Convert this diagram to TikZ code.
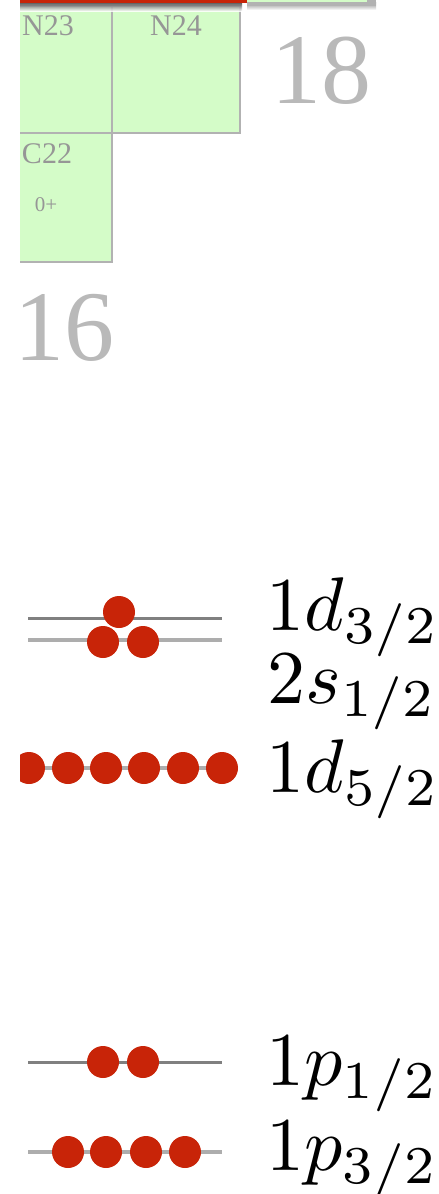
\documentclass[tikz,border=0pt]{standalone}
\usepackage[no-math]{fontspec}
\newfontfamily\tms{Liberation Serif}
\definecolor{nred}{RGB}{200,36,8}
\definecolor{cellgreen}{RGB}{212,252,200}
\definecolor{cellline}{RGB}{178,178,178}
\definecolor{bigdigit}{RGB}{185,185,185}
\definecolor{celltext}{RGB}{150,150,150}
\tikzset{
  cell/.style={fill=cellgreen,draw=cellline,line width=2.5pt},
  ctext/.style={text=celltext,inner sep=0pt,font=\tms\fontsize{30}{30}\selectfont,anchor=base},
  jtext/.style={text=celltext,inner sep=0pt,font=\tms\fontsize{21}{21}\selectfont,anchor=base},
  bignum/.style={text=bigdigit,inner sep=0pt,font=\tms\fontsize{100}{100}\selectfont,anchor=base},
  level/.style={draw=black!50,line width=3pt},
  levelb/.style={draw=black!32,line width=3.2pt},
  nucleon/.style={fill=nred},
  lab/.style={inner sep=0pt,anchor=base west,scale=7.6},
}
\begin{document}
\begin{tikzpicture}[x=1pt,y=-1pt]
\useasboundingbox (0,0) rectangle (439,1194);
\begin{scope}
\clip (20,0) rectangle (439,1194);
% top row cell (partly visible)
\fill[cellgreen] (247,-30) rectangle (370,2);
\shade[top color=black!45,bottom color=white] (247,2) rectangle (376,10);
\fill[black!30] (247,2) rectangle (376,6);
\fill[black!30] (367,-5) rectangle (376,6);
% green cells
\draw[cell] (-16,6) rectangle (112,133);
\draw[cell] (112,6) rectangle (240,133);
\draw[cell] (-16,133) rectangle (112,262);
\node[ctext] (n23) at (48,35) {N23};
\node[ctext] (n24) at (176,35) {N24};
\node[ctext] (c22) at (47,163) {C22};
\node[jtext] (c22j) at (46,211) {0+};
% red bar with shadow
\shade[top color=black!80,bottom color=white,opacity=0.85] (20,2) rectangle (242,11);
\fill[nred] (20,-5) rectangle (247,2.5);
\node[bignum] (n18) at (321,103) {18};
\node[bignum] (n16) at (64,360) {16};
% levels
\draw[level] (28,618) -- (222,618);
\draw[levelb] (28,640) -- (222,640);
\fill[nucleon] (119,612) circle (16);
\fill[nucleon] (103,642) circle (16);
\fill[nucleon] (143,642) circle (16);
\draw[levelb] (20,768) -- (222,768);
\foreach \x in {29,68,106,144,183,222} \fill[nucleon] (\x,768) circle (16);
\draw[level] (28,1062) -- (222,1062);
\fill[nucleon] (103,1062) circle (16);
\fill[nucleon] (143,1062) circle (16);
\draw[levelb] (28,1152) -- (222,1152);
\foreach \x in {68,106,146,185} \fill[nucleon] (\x,1152) circle (16);
\end{scope}
\node[lab] (l1) at (265,630) {$1d_{3/2}$};
\node[lab] (l2) at (266,703) {$2s_{1/2}$};
\node[lab] (l3) at (265,792) {$1d_{5/2}$};
\node[lab] (l4) at (265,1085) {$1p_{1/2}$};
\node[lab] (l5) at (265,1170) {$1p_{3/2}$};
\end{tikzpicture}
\end{document}
